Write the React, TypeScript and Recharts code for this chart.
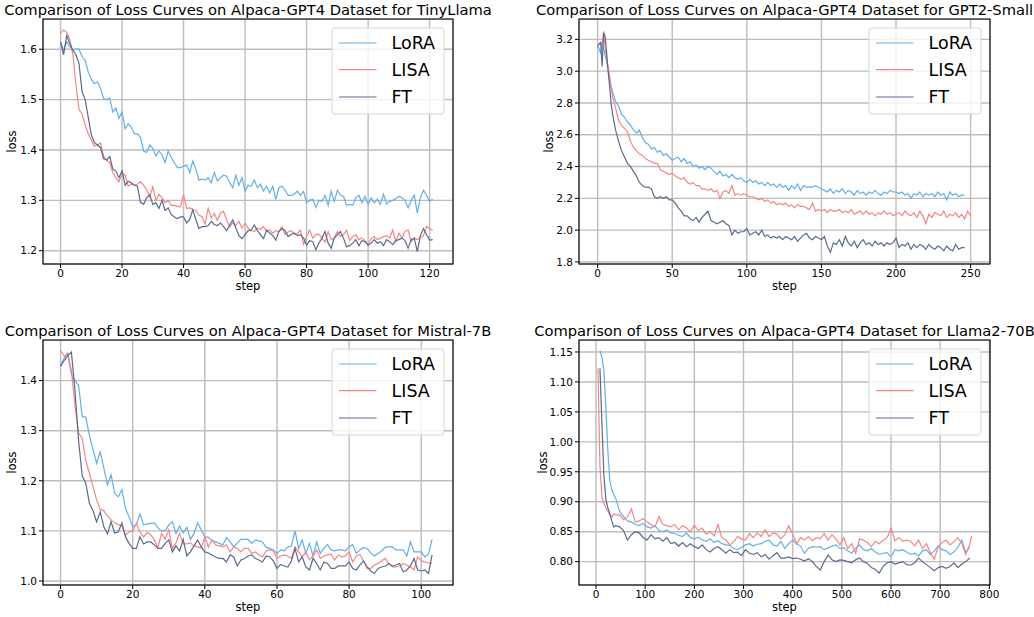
import React from 'react';
import { LineChart, Line, XAxis, YAxis, CartesianGrid } from 'recharts';

const FONT = '"DejaVu Sans", sans-serif';
const COLORS = { lora: '#62afe9', lisa: '#f58686', ft: '#5a6b8b' };
const SERIES = [
  { key: 'lora', name: 'LoRA' },
  { key: 'lisa', name: 'LISA' },
  { key: 'ft', name: 'FT' },
];

const range = (from: number, to: number, by: number) => {
  const out: number[] = [];
  for (let v = from; v <= to; v += by) out.push(v);
  return out;
};

// ---- TinyLlama ----
const tinySteps = range(0, 121, 1);
const tinyLora = [
  1.615, 1.598, 1.615, 1.605, 1.598, 1.600, 1.600, 1.585, 1.578, 1.555,
  1.540, 1.532, 1.535, 1.522, 1.502, 1.500, 1.503, 1.475, 1.483, 1.463,
  1.475, 1.442, 1.452, 1.445, 1.432, 1.432, 1.425, 1.398, 1.395, 1.410,
  1.403, 1.388, 1.398, 1.390, 1.375, 1.398, 1.385, 1.375, 1.365, 1.365,
  1.368, 1.370, 1.355, 1.378, 1.362, 1.340, 1.342, 1.340, 1.345, 1.335,
  1.355, 1.338, 1.345, 1.350, 1.348, 1.335, 1.325, 1.350, 1.330, 1.345,
  1.318, 1.330, 1.328, 1.340, 1.325, 1.332, 1.318, 1.328, 1.315, 1.328,
  1.302, 1.325, 1.328, 1.320, 1.310, 1.310, 1.312, 1.318, 1.310, 1.318,
  1.295, 1.300, 1.302, 1.286, 1.300, 1.298, 1.310, 1.290, 1.318, 1.298,
  1.320, 1.310, 1.308, 1.290, 1.292, 1.290, 1.305, 1.310, 1.295, 1.308,
  1.292, 1.305, 1.295, 1.302, 1.292, 1.312, 1.293, 1.298, 1.300, 1.303,
  1.308, 1.305, 1.300, 1.285, 1.300, 1.310, 1.275, 1.305, 1.320, 1.310,
  1.298, 1.302,
];
const tinyLisa = [
  1.632, 1.638, 1.634, 1.620, 1.590, 1.530, 1.480, 1.472, 1.450, 1.432,
  1.420, 1.408, 1.410, 1.414, 1.388, 1.380, 1.375, 1.355, 1.345, 1.337,
  1.354, 1.350, 1.328, 1.332, 1.330, 1.332, 1.337, 1.330, 1.320, 1.307,
  1.327, 1.300, 1.312, 1.305, 1.295, 1.300, 1.290, 1.290, 1.288, 1.287,
  1.312, 1.284, 1.285, 1.282, 1.280, 1.270, 1.268, 1.253, 1.284, 1.265,
  1.274, 1.260, 1.275, 1.278, 1.262, 1.248, 1.255, 1.250, 1.258, 1.245,
  1.254, 1.245, 1.240, 1.238, 1.245, 1.242, 1.248, 1.238, 1.241, 1.235,
  1.240, 1.238, 1.248, 1.232, 1.237, 1.240, 1.233, 1.234, 1.241, 1.213,
  1.228, 1.241, 1.225, 1.232, 1.233, 1.225, 1.217, 1.238, 1.222, 1.225,
  1.238, 1.228, 1.232, 1.241, 1.220, 1.228, 1.232, 1.222, 1.225, 1.220,
  1.211, 1.224, 1.228, 1.222, 1.225, 1.228, 1.230, 1.225, 1.241, 1.218,
  1.235, 1.225, 1.238, 1.241, 1.218, 1.225, 1.222, 1.225, 1.230, 1.248,
  1.244, 1.240,
];
const tinyFt = [
  1.614, 1.589, 1.627, 1.612, 1.598, 1.589, 1.572, 1.516, 1.500, 1.465,
  1.430, 1.415, 1.410, 1.405, 1.383, 1.380, 1.387, 1.362, 1.358, 1.345,
  1.359, 1.330, 1.338, 1.335, 1.330, 1.328, 1.296, 1.292, 1.305, 1.311,
  1.292, 1.295, 1.284, 1.300, 1.280, 1.285, 1.272, 1.267, 1.264, 1.267,
  1.267, 1.255, 1.262, 1.281, 1.262, 1.244, 1.248, 1.248, 1.250, 1.258,
  1.252, 1.250, 1.255, 1.248, 1.240, 1.251, 1.261, 1.245, 1.230, 1.224,
  1.232, 1.240, 1.241, 1.251, 1.240, 1.232, 1.224, 1.241, 1.235, 1.230,
  1.221, 1.238, 1.244, 1.240, 1.228, 1.232, 1.235, 1.230, 1.232, 1.225,
  1.211, 1.220, 1.218, 1.202, 1.215, 1.225, 1.238, 1.215, 1.205, 1.225,
  1.232, 1.238, 1.225, 1.208, 1.210, 1.215, 1.222, 1.210, 1.220, 1.218,
  1.211, 1.215, 1.222, 1.215, 1.218, 1.210, 1.222, 1.218, 1.212, 1.220,
  1.222, 1.225, 1.220, 1.205, 1.222, 1.225, 1.198, 1.230, 1.244, 1.232,
  1.221, 1.222,
];

// ---- GPT2-Small ----
const gptSteps = [...range(0, 10, 1), ...range(12, 250, 2)];
const gptLora = [
  3.16, 3.14, 3.11, 3.17, 3.14, 3.10, 3.06, 3.01, 2.95, 2.90, 2.87,
  2.81, 2.78, 2.73, 2.71, 2.68, 2.66, 2.63, 2.61, 2.63, 2.58,
  2.55, 2.54, 2.51, 2.52, 2.49, 2.50, 2.47, 2.48, 2.46, 2.44,
  2.45, 2.46, 2.43, 2.45, 2.42, 2.43, 2.40, 2.41, 2.39, 2.40,
  2.38, 2.40, 2.39, 2.37, 2.35, 2.37, 2.34, 2.35, 2.33, 2.35,
  2.33, 2.32, 2.33, 2.31, 2.30, 2.32, 2.30, 2.31, 2.29, 2.30,
  2.28, 2.30, 2.28, 2.29, 2.27, 2.29, 2.27, 2.28, 2.25, 2.28,
  2.26, 2.29, 2.25, 2.28, 2.27, 2.27, 2.27, 2.28, 2.27, 2.26,
  2.25, 2.24, 2.26, 2.23, 2.25, 2.24, 2.26, 2.23, 2.25, 2.24,
  2.22, 2.25, 2.23, 2.24, 2.22, 2.24, 2.23, 2.25, 2.23, 2.22,
  2.24, 2.23, 2.25, 2.24, 2.24, 2.23, 2.24, 2.22, 2.23, 2.20,
  2.23, 2.22, 2.24, 2.21, 2.23, 2.22, 2.23, 2.21, 2.24, 2.22,
  2.23, 2.19, 2.24, 2.22, 2.23, 2.21, 2.22, 2.22, null, null,
];
const gptLisa = [
  3.17, 3.17, 3.18, 3.17, 3.25, 3.14, 3.08, 3.03, 2.97, 2.90, 2.84,
  2.77, 2.69, 2.66, 2.64, 2.62, 2.56, 2.52, 2.50, 2.48, 2.47,
  2.45, 2.44, 2.43, 2.42, 2.42, 2.38, 2.37, 2.36, 2.35, 2.36,
  2.34, 2.33, 2.32, 2.33, 2.30, 2.29, 2.30, 2.28, 2.28, 2.26,
  2.26, 2.25, 2.26, 2.24, 2.25, 2.20, 2.24, 2.25, 2.23, 2.28,
  2.22, 2.23, 2.22, 2.23, 2.22, 2.21, 2.21, 2.20, 2.19, 2.20,
  2.18, 2.19, 2.17, 2.18, 2.16, 2.17, 2.16, 2.17, 2.15, 2.16,
  2.14, 2.16, 2.15, 2.15, 2.14, 2.13, 2.17, 2.12, 2.13, 2.12,
  2.13, 2.11, 2.13, 2.12, 2.12, 2.13, 2.11, 2.12, 2.11, 2.13,
  2.10, 2.11, 2.12, 2.10, 2.12, 2.10, 2.11, 2.09, 2.11, 2.10,
  2.12, 2.10, 2.11, 2.09, 2.10, 2.11, 2.09, 2.12, 2.10, 2.09,
  2.11, 2.08, 2.12, 2.09, 2.04, 2.10, 2.08, 2.11, 2.10, 2.09,
  2.12, 2.08, 2.10, 2.09, 2.11, 2.08, 2.10, 2.07, 2.12, 2.09,
];
const gptFt = [
  3.16, 3.17, 3.18, 3.03, 3.24, 3.22, 3.12, 3.00, 2.91, 2.80, 2.73,
  2.63, 2.56, 2.50, 2.46, 2.42, 2.40, 2.37, 2.34, 2.30, 2.28,
  2.27, 2.27, 2.26, 2.21, 2.20, 2.21, 2.20, 2.21, 2.19, 2.19,
  2.17, 2.14, 2.12, 2.09, 2.09, 2.07, 2.06, 2.08, 2.05, 2.08,
  2.10, 2.12, 2.06, 2.05, 2.04, 2.05, 2.06, 2.04, 2.03, 1.97,
  2.00, 1.98, 1.99, 1.99, 2.01, 1.97, 1.98, 1.99, 1.97, 2.00,
  1.96, 1.97, 1.95, 1.96, 1.95, 1.96, 1.94, 1.96, 1.95, 1.94,
  1.96, 1.93, 1.95, 1.97, 1.98, 1.95, 1.94, 1.96, 1.95, 1.94,
  1.96, 1.90, 1.86, 1.92, 1.91, 1.94, 1.90, 1.96, 1.92, 1.90,
  1.93, 1.89, 1.92, 1.94, 1.91, 1.92, 1.90, 1.93, 1.91, 1.92,
  1.90, 1.92, 1.91, 1.92, 1.95, 1.89, 1.91, 1.90, 1.92, 1.88,
  1.91, 1.89, 1.91, 1.90, 1.88, 1.91, 1.89, 1.88, 1.90, 1.89,
  1.87, 1.90, 1.88, 1.87, 1.91, 1.88, 1.89, 1.89, null, null,
];

// ---- Mistral-7B ----
const mistralSteps = range(0, 103, 1);
const mistralLora = [
  1.430, 1.445, 1.455, 1.412, 1.400, 1.390, 1.328, 1.327, 1.290, 1.262,
  1.235, 1.258, 1.225, 1.192, 1.212, 1.175, 1.168, 1.182, 1.145, 1.128,
  1.108, 1.112, 1.134, 1.112, 1.114, 1.115, 1.116, 1.106, 1.100, 1.100,
  1.112, 1.118, 1.095, 1.110, 1.096, 1.107, 1.083, 1.095, 1.116, 1.102,
  1.088, 1.087, 1.080, 1.078, 1.075, 1.072, 1.087, 1.078, 1.068, 1.076,
  1.083, 1.083, 1.083, 1.075, 1.082, 1.080, 1.078, 1.067, 1.065, 1.062,
  1.055, 1.062, 1.060, 1.068, 1.070, 1.100, 1.065, 1.082, 1.055, 1.075,
  1.050, 1.078, 1.055, 1.065, 1.073, 1.062, 1.060, 1.062, 1.062, 1.060,
  1.068, 1.073, 1.055, 1.062, 1.067, 1.065, 1.056, 1.050, 1.055, 1.060,
  1.067, 1.068, 1.068, 1.062, 1.062, 1.062, 1.050, 1.078, 1.058, 1.058,
  1.058, 1.048, 1.054, 1.083,
];
const mistralLisa = [
  1.460, 1.449, 1.453, 1.420, 1.350, 1.295, 1.285, 1.240, 1.215, 1.188,
  1.162, 1.143, 1.140, 1.130, 1.122, 1.116, 1.112, 1.110, 1.092, 1.098,
  1.100, 1.115, 1.098, 1.088, 1.097, 1.092, 1.082, 1.067, 1.095, 1.084,
  1.102, 1.065, 1.076, 1.095, 1.074, 1.074, 1.076, 1.070, 1.068, 1.066,
  1.088, 1.068, 1.082, 1.072, 1.070, 1.068, 1.072, 1.058, 1.068, 1.065,
  1.058, 1.065, 1.065, 1.055, 1.058, 1.052, 1.048, 1.060, 1.062, 1.060,
  1.045, 1.050, 1.052, 1.050, 1.045, 1.068, 1.058, 1.048, 1.058, 1.042,
  1.050, 1.062, 1.045, 1.050, 1.052, 1.054, 1.042, 1.052, 1.048, 1.050,
  1.058, 1.038, 1.050, 1.053, 1.040, 1.025, 1.025, 1.032, 1.035, 1.040,
  1.045, 1.035, 1.028, 1.028, 1.030, 1.035, 1.032, 1.028, 1.022, 1.048,
  1.040, 1.038, 1.036, 1.035,
];
const mistralFt = [
  1.429, 1.440, 1.450, 1.457, 1.380, 1.280, 1.210, 1.195, 1.155, 1.140,
  1.118, 1.138, 1.108, 1.094, 1.118, 1.096, 1.098, 1.116, 1.088, 1.075,
  1.065, 1.065, 1.088, 1.074, 1.078, 1.078, 1.072, 1.065, 1.065, 1.075,
  1.082, 1.058, 1.070, 1.060, 1.083, 1.050, 1.058, 1.070, 1.082, 1.068,
  1.058, 1.056, 1.052, 1.048, 1.045, 1.045, 1.038, 1.052, 1.048, 1.030,
  1.042, 1.045, 1.050, 1.052, 1.045, 1.042, 1.038, 1.050, 1.048, 1.040,
  1.025, 1.033, 1.030, 1.028, 1.040, 1.065, 1.038, 1.048, 1.028, 1.022,
  1.045, 1.035, 1.022, 1.038, 1.035, 1.025, 1.025, 1.030, 1.030, 1.030,
  1.038, 1.025, 1.022, 1.032, 1.040, 1.028, 1.020, 1.015, 1.025, 1.028,
  1.030, 1.035, 1.030, 1.032, 1.035, 1.018, 1.022, 1.030, 1.045, 1.022,
  1.020, 1.022, 1.015, 1.052,
];

// ---- Llama2-70B ----
const llamaSteps = [...range(4, 40, 4), ...range(48, 760, 8), 764];
const llamaLora = [
  null, 1.152, 1.142, 1.118, 1.058, 0.986, 0.936, 0.920, 0.912, 0.906,
  0.884, 0.875, 0.868, 0.866, 0.862, 0.860, 0.864, 0.858, 0.856, 0.860,
  0.852, 0.850, 0.853, 0.848, 0.847, 0.844, 0.842, 0.848, 0.840, 0.838,
  0.841, 0.836, 0.834, 0.838, 0.832, 0.835, 0.830, 0.828, 0.827, 0.822,
  0.820, 0.824, 0.828, 0.830, 0.826, 0.829, 0.830, 0.834, 0.836, 0.828,
  0.826, 0.834, 0.822, 0.830, 0.836, 0.830, 0.826, 0.814, 0.822, 0.825,
  0.824, 0.825, 0.820, 0.823, 0.826, 0.828, 0.822, 0.823, 0.818, 0.814,
  0.822, 0.828, 0.820, 0.818, 0.822, 0.816, 0.812, 0.814, 0.815, 0.808,
  0.820, 0.818, 0.820, 0.816, 0.812, 0.814, 0.810, 0.818, 0.820, 0.812,
  0.818, 0.826, 0.820, 0.818, 0.812, 0.816, 0.824, 0.836, 0.815, 0.825,
  null,
];
const llamaLisa = [
  1.123, 0.960, 0.908, 0.897, 0.890, 0.884, 0.878, 0.874, 0.880, 0.878,
  0.878, 0.870, 0.875, 0.888, 0.866, 0.868, 0.872, 0.866, 0.862, 0.858,
  0.875, 0.862, 0.860, 0.858, 0.862, 0.853, 0.860, 0.856, 0.850, 0.861,
  0.852, 0.856, 0.846, 0.850, 0.843, 0.862, 0.840, 0.836, 0.828, 0.833,
  0.842, 0.838, 0.836, 0.847, 0.840, 0.848, 0.842, 0.853, 0.842, 0.848,
  0.846, 0.838, 0.845, 0.860, 0.846, 0.830, 0.840, 0.836, 0.842, 0.835,
  0.840, 0.838, 0.847, 0.836, 0.845, 0.838, 0.828, 0.840, 0.822, 0.830,
  0.814, 0.838, 0.836, 0.832, 0.825, 0.834, 0.830, 0.836, 0.840, 0.856,
  0.835, 0.840, 0.834, 0.836, 0.834, 0.826, 0.836, 0.822, 0.830, 0.815,
  0.804, 0.825, 0.832, 0.836, 0.828, 0.833, 0.840, 0.830, 0.812, 0.828,
  0.843,
];
const llamaFt = [
  null, 1.123, 1.031, 0.945, 0.904, 0.890, 0.880, 0.868, 0.858, 0.860,
  0.858, 0.852, 0.836, 0.845, 0.850, 0.848, 0.840, 0.836, 0.845, 0.838,
  0.840, 0.834, 0.840, 0.830, 0.832, 0.826, 0.832, 0.825, 0.830, 0.825,
  0.822, 0.828, 0.820, 0.816, 0.822, 0.825, 0.820, 0.814, 0.820, 0.815,
  0.816, 0.810, 0.820, 0.814, 0.812, 0.815, 0.808, 0.812, 0.804, 0.810,
  0.815, 0.806, 0.806, 0.808, 0.805, 0.806, 0.804, 0.801, 0.805, 0.800,
  0.792, 0.786, 0.800, 0.811, 0.803, 0.800, 0.803, 0.802, 0.800, 0.798,
  0.803, 0.806, 0.800, 0.797, 0.790, 0.787, 0.781, 0.792, 0.798, 0.800,
  0.796, 0.798, 0.800, 0.795, 0.794, 0.798, 0.806, 0.800, 0.795, 0.790,
  0.785, 0.790, 0.792, 0.789, 0.792, 0.798, 0.790, 0.796, 0.800, 0.806,
  null,
];

const zip = (steps: number[], lora: (number | null)[], lisa: (number | null)[], ft: (number | null)[]) =>
  steps.map((step, i) => ({ step, lora: lora[i] ?? null, lisa: lisa[i] ?? null, ft: ft[i] ?? null }));

const panels = [
  {
    id: 'tiny',
    title: 'Comparison of Loss Curves on Alpaca-GPT4 Dataset for TinyLlama',
    box: { left: 43, top: 19, width: 410, height: 245 },
    titleY: 15,
    yLabelX: 16,
    xDomain: [-5.7, 127.6],
    yDomain: [1.1736, 1.66],
    xTicks: [0, 20, 40, 60, 80, 100, 120],
    yTicks: [1.2, 1.3, 1.4, 1.5, 1.6],
    digits: 1,
    data: zip(tinySteps, tinyLora, tinyLisa, tinyFt),
  },
  {
    id: 'gpt2',
    title: 'Comparison of Loss Curves on Alpaca-GPT4 Dataset for GPT2-Small',
    box: { left: 579, top: 19, width: 411, height: 245 },
    titleY: 15,
    yLabelX: 553,
    xDomain: [-12.5, 263],
    yDomain: [1.787, 3.328],
    xTicks: [0, 50, 100, 150, 200, 250],
    yTicks: [1.8, 2.0, 2.2, 2.4, 2.6, 2.8, 3.0, 3.2],
    digits: 1,
    data: zip(gptSteps, gptLora, gptLisa, gptFt),
  },
  {
    id: 'mistral',
    title: 'Comparison of Loss Curves on Alpaca-GPT4 Dataset for Mistral-7B',
    box: { left: 43, top: 340, width: 410, height: 245 },
    titleY: 336,
    yLabelX: 16,
    xDomain: [-4.87, 108.8],
    yDomain: [0.992, 1.481],
    xTicks: [0, 20, 40, 60, 80, 100],
    yTicks: [1.0, 1.1, 1.2, 1.3, 1.4],
    digits: 1,
    data: zip(mistralSteps, mistralLora, mistralLisa, mistralFt),
  },
  {
    id: 'llama',
    title: 'Comparison of Loss Curves on Alpaca-GPT4 Dataset for Llama2-70B',
    box: { left: 579, top: 340, width: 411, height: 245 },
    titleY: 336,
    yLabelX: 547,
    xDomain: [-34.6, 801.3],
    yDomain: [0.761, 1.17],
    xTicks: [0, 100, 200, 300, 400, 500, 600, 700, 800],
    yTicks: [0.8, 0.85, 0.9, 0.95, 1.0, 1.05, 1.1, 1.15],
    digits: 2,
    data: zip(llamaSteps, llamaLora, llamaLisa, llamaFt),
  },
];

const Y_W = 50;
const X_H = 30;
const R_PAD = 20;
const tickStyle = { fontSize: 10.5, fill: '#000', fontFamily: FONT };

function Panel({ p }: { p: (typeof panels)[number] }) {
  const { left, top, width, height } = p.box;
  const w = width + Y_W + R_PAD;
  const h = height + X_H;
  return (
    <div style={{ position: 'absolute', left: left - Y_W, top, width: w, height: h }}>
      <LineChart width={w} height={h} data={p.data} margin={{ top: 0, right: R_PAD, bottom: 0, left: 0 }}>
        <CartesianGrid stroke="#bdbdbd" strokeWidth={1.4} />
        <XAxis
          dataKey="step"
          type="number"
          domain={p.xDomain}
          ticks={p.xTicks}
          interval={0}
          allowDataOverflow
          height={X_H}
          axisLine={false}
          tickSize={4}
          tickMargin={2}
          tickLine={{ stroke: '#000' }}
          tick={tickStyle}
        />
        <YAxis
          type="number"
          domain={p.yDomain}
          ticks={p.yTicks}
          interval={0}
          allowDataOverflow
          width={Y_W}
          axisLine={false}
          tickSize={4}
          tickMargin={2}
          tickLine={{ stroke: '#000' }}
          tick={tickStyle}
          tickFormatter={(v: number) => v.toFixed(p.digits)}
        />
        {SERIES.map((s) => (
          <Line
            key={s.key}
            dataKey={s.key}
            type="linear"
            stroke={COLORS[s.key as keyof typeof COLORS]}
            strokeWidth={1.2}
            dot={false}
            activeDot={false}
            isAnimationActive={false}
          />
        ))}
      </LineChart>
    </div>
  );
}

function Overlay() {
  return (
    <svg width={1034} height={617} style={{ position: 'absolute', left: 0, top: 0, pointerEvents: 'none' }}>
      {panels.map((p) => {
        const { left, top, width, height } = p.box;
        const lx = left + width - 9 - 112;
        const ly = top + 9;
        const rows = [15, 41.7, 69];
        return (
          <g key={p.id} fontFamily={FONT}>
            <rect x={left} y={top} width={width} height={height} fill="none" stroke="#000" strokeWidth={1.1} />
            <text x={left + width / 2} y={p.titleY} textAnchor="middle" fontSize={14.7} fill="#000">
              {p.title}
            </text>
            <text x={left + width / 2} y={top + height + 26} textAnchor="middle" fontSize={11.5} fill="#000">
              step
            </text>
            <text
              transform={`translate(${p.yLabelX},${top + height / 2}) rotate(-90)`}
              textAnchor="middle"
              fontSize={11.5}
              fill="#000"
            >
              loss
            </text>
            <rect x={lx} y={ly} width={112} height={86} rx={3} fill="#fff" fillOpacity={0.8} stroke="#d6d6d6" />
            {SERIES.map((s, i) => (
              <g key={s.key}>
                <line
                  x1={lx + 7}
                  x2={lx + 44.5}
                  y1={ly + rows[i]}
                  y2={ly + rows[i]}
                  stroke={COLORS[s.key as keyof typeof COLORS]}
                  strokeWidth={1.2}
                />
                <text x={lx + 59.5} y={ly + rows[i] + 6.4} fontSize={17.5} fill="#000">
                  {s.name}
                </text>
              </g>
            ))}
          </g>
        );
      })}
    </svg>
  );
}

export default function App() {
  return (
    <div style={{ position: 'absolute', left: 0, top: 0, width: 1034, height: 617, background: '#fff' }}>
      {panels.map((p) => (
        <Panel key={p.id} p={p} />
      ))}
      <Overlay />
    </div>
  );
}
